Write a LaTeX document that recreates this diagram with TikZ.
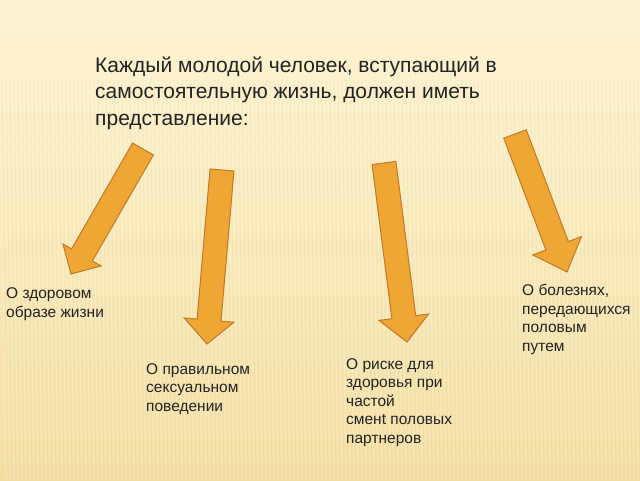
\documentclass[tikz,border=0pt]{standalone}
\usepackage{fontspec}
\setmainfont{Liberation Sans}
\usetikzlibrary{calc}
\definecolor{arrowfill}{RGB}{240,166,52}
\definecolor{arrowline}{RGB}{190,122,38}
\definecolor{bgtop}{RGB}{254,250,236}
\definecolor{bgup}{RGB}{252,242,206}
\definecolor{bgmid}{RGB}{245,226,170}
\definecolor{bgbot}{RGB}{228,193,108}
\definecolor{txt}{RGB}{35,35,35}
\pgfdeclareverticalshading{bgshade}{100bp}{color(0bp)=(bgbot); color(30bp)=(bgmid); color(70bp)=(bgup); color(92bp)=(bgtop); color(100bp)=(white)}
\tikzset{
  blockarrow/.style={fill=arrowfill, draw=arrowline, line width=1pt, line join=miter},
  titletext/.style={anchor=base west, align=left, inner sep=0pt, text=txt, font=\fontsize{21}{26.5}\selectfont},
  labeltext/.style={anchor=base west, align=left, inner sep=0pt, text=txt, font=\fontsize{15.5}{18.5}\selectfont},
}
% name, tail, tip, shaft half width, head half width, head length
\newcommand{\barrow}[6]{%
  \coordinate (#1-t) at (#2);
  \coordinate (#1-h) at (#3);
  \coordinate (#1-b) at ($(#1-h)!#6!(#1-t)$);
  \draw[blockarrow] ($(#1-t)!#4!90:(#1-h)$) -- ($(#1-b)!#4!90:(#1-h)$) -- ($(#1-b)!#5!90:(#1-h)$) -- (#1-h)
     -- ($(#1-b)!#5!-90:(#1-h)$) -- ($(#1-b)!#4!-90:(#1-h)$) -- ($(#1-t)!#4!-90:(#1-h)$) -- cycle;
}
\begin{document}
\begin{tikzpicture}[x=1pt,y=-1pt]
\useasboundingbox (0,0) rectangle (640,480);
\shade[shading=bgshade] (0,0) rectangle (640,480);
\foreach \i in {0,4,...,640} {
  \draw[white, opacity=0.18, line width=1.2pt] (\i,60) -- (\i+6,480);
}
\foreach \i in {2,6,...,640} {
  \draw[bgbot, opacity=0.12, line width=0.8pt] (\i,80) -- (\i+6,480);
}

\barrow{a1}{143,149}{71,274}{12pt}{22pt}{22pt}
\barrow{a2}{222,170}{207,344}{12pt}{25pt}{24pt}
\barrow{a3}{384,163}{407,342}{12pt}{25pt}{25pt}
\barrow{a4}{515,134}{567,272}{12pt}{26pt}{28pt}

% base anchor of a multi-line node = baseline of its last line
\node[titletext] (title) at (95,125) {Каждый молодой человек, вступающий в\\самостоятельную жизнь, должен иметь\\представление:};

\node[labeltext] (l1) at (6,317) {О здоровом\\образе жизни};
\node[labeltext] (l2) at (146,411) {О правильном\\сексуальном\\поведении};
\node[labeltext] (l3) at (346,443) {О риске для\\здоровья при\\частой\\смен{}t половых\\партнеров};
\node[labeltext] (l4) at (522,351) {О болезнях,\\передающихся\\половым\\путем};
\end{tikzpicture}
\end{document}
